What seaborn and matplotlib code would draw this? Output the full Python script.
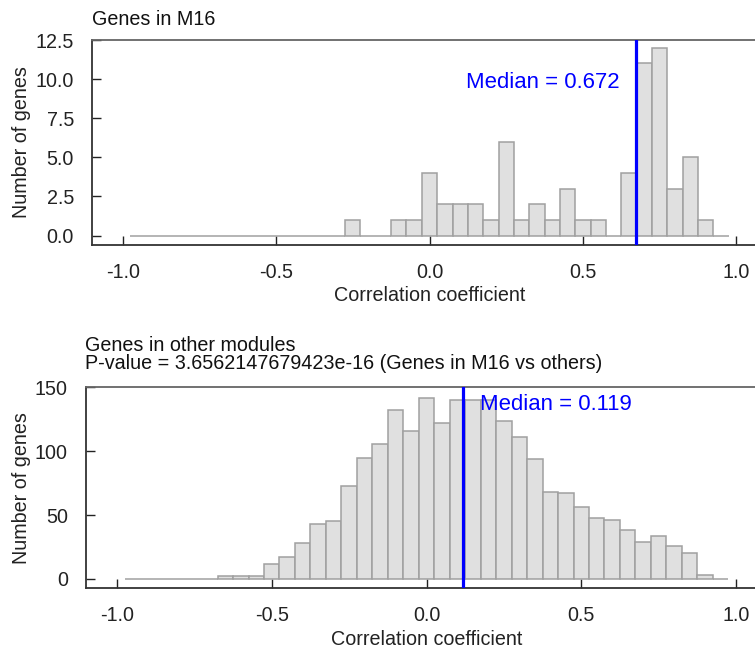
import numpy as np
import pandas as pd
import matplotlib
matplotlib.use("Agg")
import matplotlib.pyplot as plt
import seaborn as sns

# ---- data ----
top_centers = [-0.25, -0.10, -0.05, 0.00, 0.05, 0.10, 0.15, 0.20, 0.25, 0.30,
               0.35, 0.40, 0.45, 0.50, 0.55, 0.65, 0.70, 0.75, 0.80, 0.85, 0.90]
top_counts = [1, 1, 1, 4, 2, 2, 2, 1, 6, 1,
              2, 1, 3, 1, 1, 4, 11, 12, 3, 5, 1]
top_median = 0.672

bot_centers = [-0.65, -0.60, -0.55, -0.50, -0.45, -0.40, -0.35, -0.30, -0.25, -0.20,
               -0.15, -0.10, -0.05, 0.00, 0.05, 0.10, 0.15, 0.20, 0.25, 0.30,
               0.35, 0.40, 0.45, 0.50, 0.55, 0.60, 0.65, 0.70, 0.75, 0.80,
               0.85, 0.90]
bot_counts = [2, 2, 2, 12, 17, 28, 43, 45, 73, 95,
              106, 132, 116, 142, 122, 140, 140, 140, 124, 111,
              94, 68, 67, 56, 48, 46, 38, 29, 34, 26,
              20, 3]
bot_median = 0.119

top_title = "Genes in M16"
bot_title1 = "Genes in other modules"
bot_title2 = "P-value = 3.6562147679423e-16 (Genes in M16 vs others)"
xlabel = "Correlation coefficient"
ylabel = "Number of genes"
x_ticks = [-1.0, -0.5, 0.0, 0.5, 1.0]
top_yticks = [0.0, 2.5, 5.0, 7.5, 10.0, 12.5]
bot_yticks = [0, 50, 100, 150]

# ---- style ----
sns.set_style("white")
plt.rcParams['font.family'] = ['Liberation Sans', 'DejaVu Sans']
FS = 14.2

W, H = 755, 657
fig = plt.figure(figsize=(W / 100, H / 100), dpi=100)

def px_axes(left, top, right, bottom):
    return fig.add_axes([left / W, 1 - bottom / H, (right - left) / W, (bottom - top) / H])

ax1 = px_axes(92, 40, 767, 245)
ax2 = px_axes(86, 387.3, 767, 588.3)

edges = [round(-0.975 + 0.05 * i, 3) for i in range(40)]

def draw(ax, centers, counts, median, ylim, yticks, yfmt, mlabel_xy, mlabel_ha):
    df = pd.DataFrame({"r": centers, "n": counts})
    sns.histplot(data=df, x="r", weights="n", bins=edges, ax=ax,
                 color="#e0e0e0", edgecolor="#a0a0a0", linewidth=1.1, alpha=1.0)
    ax.axvline(median, color="#0000ff", lw=2.3, zorder=5)
    ax.text(mlabel_xy[0], mlabel_xy[1], f"Median = {median:.3f}", color="#0000ff",
            fontsize=15.9, ha=mlabel_ha, va="center", zorder=6)
    ax.set_xlim(-1.1, 1.1)
    ax.set_ylim(*ylim)
    ax.set_xticks(x_ticks)
    ax.set_xticklabels([f"{t:.1f}" for t in x_ticks])
    ax.set_yticks(yticks)
    ax.set_yticklabels([yfmt(t) for t in yticks])
    ax.tick_params(bottom=True, left=True, direction="in", length=6.5, width=1.0,
                   color="#222222", labelsize=FS, pad=13, labelcolor="#222222")
    ax.set_xlabel(xlabel, fontsize=FS, labelpad=3, color="#222222")
    ax.set_ylabel(ylabel, fontsize=FS, labelpad=3, color="#222222")
    for s in ["left", "bottom"]:
        ax.spines[s].set_color("#333333")
        ax.spines[s].set_linewidth(1.3)
    for s in ["top", "right"]:
        ax.spines[s].set_color("#666666")
        ax.spines[s].set_linewidth(1.3)

draw(ax1, top_centers, top_counts, top_median, (-0.6, 12.5), top_yticks,
     lambda t: f"{t:.1f}", (0.62, 9.8), "right")
draw(ax2, bot_centers, bot_counts, bot_median, (-7.3, 150), bot_yticks,
     lambda t: f"{t:d}", (0.174, 136.5), "left")

fig.text(92 / W, 1 - 25 / H, top_title, fontsize=FS, ha="left", va="baseline", color="#111111")
fig.text(85 / W, 1 - 351.4 / H, bot_title1, fontsize=FS, ha="left", va="baseline", color="#111111")
fig.text(85 / W, 1 - 368.6 / H, bot_title2, fontsize=FS, ha="left", va="baseline", color="#111111")

fig.savefig("out.png", dpi=100)
